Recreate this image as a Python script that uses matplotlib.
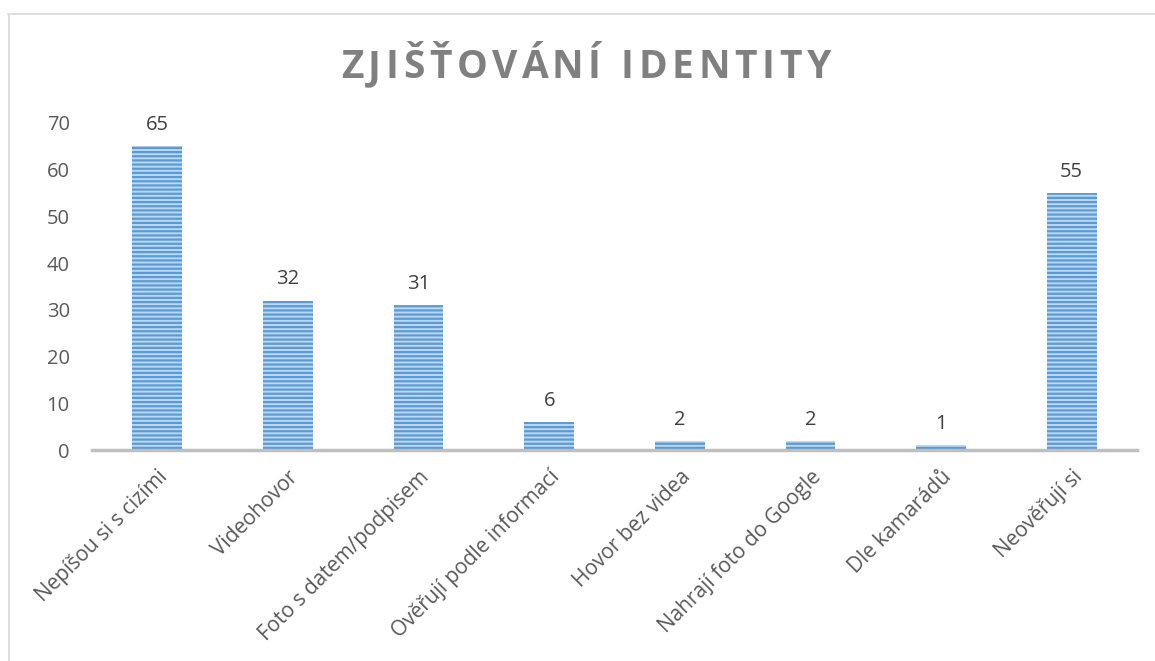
import matplotlib
matplotlib.use("Agg")
import matplotlib.pyplot as plt
from matplotlib.lines import Line2D

categories = ["Nepíšou si s cizími", "Videohovor", "Foto s datem/podpisem",
              "Ověřují podle informací", "Hovor bez videa", "Nahrají foto do Google",
              "Dle kamarádů", "Neověřují si"]
values = [65, 32, 31, 6, 2, 2, 1, 55]
yticks = [0, 10, 20, 30, 40, 50, 60, 70]
title = "ZJIŠŤOVÁNÍ IDENTITY"

plt.rcParams['font.family'] = ['Open Sans', 'DejaVu Sans']
plt.rcParams['hatch.linewidth'] = 1.6

W, H = 1155, 661
fig = plt.figure(figsize=(W/100, H/100), dpi=100)
ax = fig.add_axes([92/W, 1-450/H, 1045/W, 327/H])

x = list(range(len(categories)))
ax.bar(x, values, width=0.38, color='#BDD7EE', edgecolor='#5B9BD5',
       linewidth=0, hatch='----')

for xi, v in zip(x, values):
    ax.annotate(str(v), (xi, v), xytext=(0, 8), textcoords='offset points',
                ha='center', va='bottom', fontsize=14.5, color='#404040')

ax.set_xlim(-0.5, len(categories) - 0.5)
ax.set_ylim(0, 70)
ax.set_yticks(yticks)
ax.set_yticklabels([str(t) for t in yticks], fontsize=14.5, color='#595959')
ax.set_xticks(x)
ax.set_xticklabels(categories, rotation=45, ha='right', rotation_mode='anchor',
                   fontsize=15, color='#595959')
ax.tick_params(axis='y', length=0, pad=16)
ax.tick_params(axis='x', length=0, pad=12)
for s in ['top', 'right', 'left']:
    ax.spines[s].set_visible(False)
ax.spines['bottom'].set_color('#BFBFBF')
ax.spines['bottom'].set_linewidth(2.5)

# title with letter spacing
renderer = fig.canvas.get_renderer()
tprops = dict(fontsize=28, fontweight='bold', color='#808080')
spacing = 4.8  # px between letters
def text_width(s):
    if not s:
        return 0.0
    t = fig.text(0, 0, s, **tprops)
    w = t.get_window_extent(renderer).width
    t.remove()
    return w
full_w = text_width(title) + spacing * (len(title) - 1)
x_center = 586
x0 = x_center - full_w / 2
for i, ch in enumerate(title):
    xp = x0 + text_width(title[:i]) + spacing * i
    fig.text(xp / W, 1 - 78 / H, ch, ha='left', va='baseline', **tprops)

# outer frame
fig.add_artist(Line2D([8/W, 1], [1-13.5/H, 1-13.5/H], transform=fig.transFigure,
                      color='#D9D9D9', linewidth=1.2))
fig.add_artist(Line2D([8.5/W, 8.5/W], [0, 1-13.5/H], transform=fig.transFigure,
                      color='#D9D9D9', linewidth=1.2))

fig.savefig("out.png", dpi=100, facecolor='white')
